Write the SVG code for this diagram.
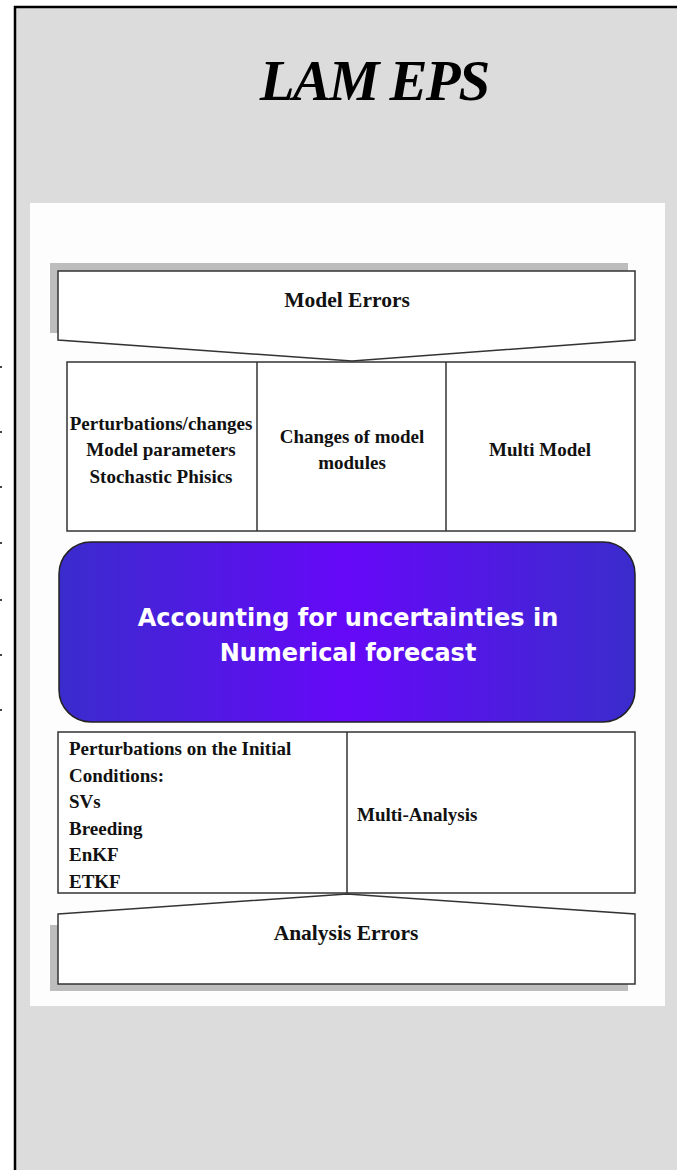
<svg xmlns="http://www.w3.org/2000/svg" width="677" height="1170" viewBox="0 0 677 1170">
<defs>
<linearGradient id="blue" x1="0" y1="0" x2="1" y2="0">
<stop offset="0" stop-color="#3a2ccc"/>
<stop offset="0.5" stop-color="#6608f8"/>
<stop offset="1" stop-color="#3a2ccc"/>
</linearGradient>
<style>
.box{fill:#ffffff;stroke:#333333;stroke-width:1.5}
.sh{fill:#bdbdbd}
.t{font-family:"Liberation Serif","DejaVu Serif",serif;font-weight:bold;font-size:19px;fill:#111111}
.big{font-size:21.5px}
.c{text-anchor:middle}
.w{font-family:"DejaVu Sans","Liberation Sans",sans-serif;font-weight:bold;font-size:24px;fill:#ffffff;text-anchor:middle}
</style>
</defs>
<rect x="0" y="0" width="677" height="1170" fill="#ffffff"/>
<rect x="15" y="7" width="670" height="1170" fill="#dcdcdc" stroke="#000000" stroke-width="2.5"/>
<g fill="#444">
<rect x="0" y="366" width="2" height="2"/><rect x="0" y="431" width="2" height="2"/><rect x="0" y="486" width="2" height="2"/><rect x="0" y="542" width="2" height="2"/><rect x="0" y="599" width="2" height="2"/><rect x="0" y="654" width="2" height="2"/><rect x="0" y="709" width="2" height="2"/>
</g>
<text x="374" y="100" text-anchor="middle" font-family="Liberation Serif, serif" font-weight="bold" font-style="italic" font-size="57" letter-spacing="-2" fill="#000">LAM EPS</text>
<rect x="30" y="203" width="635" height="803" fill="#fdfdfd"/>
<g id="model-errors">
<rect class="sh" x="50" y="263" width="578" height="70"/>
<path class="box" d="M58,271 L635,271 L635,340 L352,361 L58,340 Z"/>
<text class="t c big" x="347" y="307">Model Errors</text>
</g>
<g id="model-cells">
<rect class="box" x="67" y="362" width="568" height="169"/>
<line x1="257" y1="362" x2="257" y2="531" stroke="#333" stroke-width="1.5"/>
<line x1="446" y1="362" x2="446" y2="531" stroke="#333" stroke-width="1.5"/>
<text class="t c" x="161" y="430">Perturbations/changes</text>
<text class="t c" x="161" y="456">Model parameters</text>
<text class="t c" x="161" y="483">Stochastic Phisics</text>
<text class="t c" x="352" y="443">Changes of model</text>
<text class="t c" x="352" y="469">modules</text>
<text class="t c" x="540" y="456">Multi Model</text>
</g>
<g id="center">
<rect x="59" y="542" width="576" height="180" rx="32" ry="32" fill="url(#blue)" stroke="#222" stroke-width="1.5"/>
<text class="w" x="348" y="626">Accounting for uncertainties in</text>
<text class="w" x="348" y="661">Numerical forecast</text>
</g>
<g id="analysis-cells">
<rect class="box" x="58" y="732" width="577" height="161"/>
<line x1="347" y1="732" x2="347" y2="893" stroke="#333" stroke-width="1.5"/>
<text class="t" x="69" y="755">Perturbations on the Initial</text>
<text class="t" x="69" y="782">Conditions:</text>
<text class="t" x="69" y="808">SVs</text>
<text class="t" x="69" y="835">Breeding</text>
<text class="t" x="69" y="861">EnKF</text>
<text class="t" x="69" y="888">ETKF</text>
<text class="t" x="357" y="821">Multi-Analysis</text>
</g>
<g id="analysis-errors">
<rect class="sh" x="50" y="925" width="578" height="66"/>
<path class="box" d="M58,914 L347,894 L635,914 L635,984 L58,984 Z"/>
<text class="t c big" x="346" y="940">Analysis Errors</text>
</g>
<g id="connectors"></g>
</svg>
